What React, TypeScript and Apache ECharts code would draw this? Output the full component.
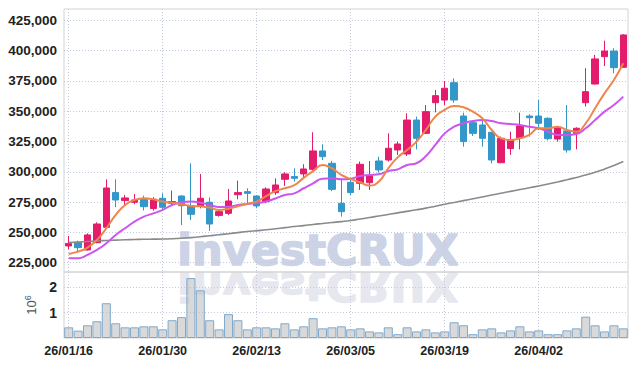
import React, { useEffect, useRef } from 'react';
import * as echarts from 'echarts';

const dates = [
  '26/01/16', '26/01/19', '26/01/20', '26/01/21', '26/01/22', '26/01/23', '26/01/26', '26/01/27', '26/01/28', '26/01/29',
  '26/01/30', '26/02/02', '26/02/03', '26/02/04', '26/02/05', '26/02/06', '26/02/09', '26/02/10', '26/02/11', '26/02/12',
  '26/02/13', '26/02/19', '26/02/20', '26/02/23', '26/02/24', '26/02/25', '26/02/26', '26/02/27', '26/03/03', '26/03/04',
  '26/03/05', '26/03/06', '26/03/09', '26/03/10', '26/03/11', '26/03/12', '26/03/13', '26/03/16', '26/03/17', '26/03/18',
  '26/03/19', '26/03/20', '26/03/23', '26/03/24', '26/03/25', '26/03/26', '26/03/27', '26/03/30', '26/03/31', '26/04/01',
  '26/04/02', '26/04/03', '26/04/06', '26/04/07', '26/04/08', '26/04/09', '26/04/10', '26/04/13', '26/04/14', '26/04/15',
];

const opens = [
  238800, 241800, 235500, 241500, 254200, 282800, 276200, 274800, 277300, 269600,
  278100, 274000, 280000, 272000, 271800, 274800, 264000, 265700, 281100, 283600,
  280000, 275300, 282800, 293800, 296000, 298200, 302000, 317200, 307000, 274000,
  291300, 290500, 291000, 308900, 309700, 318000, 314700, 342700, 331700, 357000,
  359200, 373500, 346000, 340500, 338600, 332600, 307500, 319100, 328200, 346000,
  346000, 344100, 327000, 333700, 331700, 357000, 372400, 395000, 399600, 386200,
];
const closes = [
  240900, 237400, 247900, 256900, 286600, 276700, 278400, 276700, 271200, 277300,
  270700, 275400, 272000, 264900, 278100, 256900, 267100, 275900, 282800, 282200,
  271800, 285800, 289100, 298200, 294600, 302300, 317200, 312500, 285500, 267100,
  282800, 306200, 296800, 301500, 319400, 322900, 342700, 327600, 349600, 362800,
  368900, 359200, 324900, 331700, 327600, 309700, 327600, 326200, 337800, 344600,
  340000, 327300, 336700, 318000, 335900, 366100, 393100, 399600, 385900, 412900,
];
const lows = [
  236000, 234100, 235000, 241000, 253000, 270700, 272600, 273200, 268000, 268000,
  269000, 272000, 256000, 260200, 269800, 251200, 263000, 264400, 277300, 274000,
  269900, 274000, 280900, 288300, 291900, 294600, 300900, 309700, 284000, 263000,
  280900, 285000, 285000, 299300, 308400, 313800, 313000, 318500, 331000, 349000,
  355100, 357000, 320700, 329500, 320700, 307000, 307000, 313900, 318500, 329000,
  334500, 326000, 324900, 315800, 318500, 353800, 372000, 387300, 381200, 386000,
];
const highs = [
  247000, 243200, 249200, 258300, 293800, 293800, 280900, 281700, 280300, 279000,
  282200, 284500, 280500, 307000, 298200, 278900, 268000, 285800, 292700, 286400,
  280800, 287200, 294600, 299600, 302900, 306200, 332600, 322700, 309000, 294600,
  293200, 308400, 308900, 312500, 331700, 324900, 348200, 345500, 355100, 367500,
  374900, 377100, 348800, 341900, 342700, 333000, 329000, 333100, 348800, 347400,
  359200, 345000, 337800, 355100, 336700, 385400, 396400, 408200, 401900, 413700,
];

// volume in millions of shares
const volumes = [
  0.42, 0.29, 0.50, 0.66, 1.37, 0.58, 0.42, 0.42, 0.46, 0.46,
  0.34, 0.70, 0.82, 2.36, 1.88, 0.70, 0.34, 0.94, 0.70, 0.34,
  0.42, 0.42, 0.38, 0.58, 0.34, 0.46, 0.78, 0.38, 0.42, 0.46,
  0.34, 0.38, 0.26, 0.22, 0.42, 0.15, 0.42, 0.26, 0.34, 0.22,
  0.26, 0.62, 0.50, 0.15, 0.34, 0.38, 0.22, 0.30, 0.46, 0.26,
  0.30, 0.15, 0.15, 0.30, 0.38, 0.84, 0.50, 0.26, 0.50, 0.38,
];

const ma5 = [
  232200, 234100, 237400, 243700, 253400, 264400, 272600, 276700, 278100, 277300,
  275400, 274500, 273200, 271800, 271500, 270500, 268500, 269500, 271500, 273500,
  275400, 280000, 284000, 286400, 289000, 295000, 300500, 305600, 302900, 297400,
  294000, 291300, 288600, 291900, 302900, 311900, 318000, 324900, 334500, 345500,
  351000, 354300, 353200, 349600, 344100, 334500, 327600, 326200, 327600, 330400,
  335900, 335900, 337200, 334500, 333100, 340000, 352400, 364700, 375700, 389500,
];
const ma20 = [
  228600, 228600, 231400, 235500, 241000, 247900, 253400, 258900, 263000, 265700,
  268500, 272600, 274800, 275400, 274500, 272600, 271000, 271200, 272600, 273500,
  274200, 275400, 278000, 280800, 282200, 286400, 290500, 294300, 294600, 293800,
  294300, 296500, 297400, 297900, 300600, 302000, 305600, 307000, 313000, 322100,
  331700, 337200, 340000, 341900, 342700, 341900, 340000, 339400, 338600, 337200,
  335900, 333100, 330400, 330400, 331200, 335900, 342700, 349600, 355100, 362000,
];
const ma60 = [
  241500, 242000, 242500, 243000, 243300, 243600, 243900, 244100, 244300, 244400,
  244500, 244700, 245100, 245700, 246400, 247200, 248000, 248900, 249800, 250700,
  251400, 252100, 253000, 253900, 254800, 255600, 256500, 257300, 258100, 258900,
  259800, 261000, 262200, 263500, 264800, 266100, 267300, 268600, 270000, 271600,
  273200, 274700, 276200, 277700, 279200, 280800, 282300, 283800, 285300, 286800,
  288300, 289900, 291600, 293400, 295300, 297300, 299600, 302200, 305100, 308400,
];

const priceTicks = [225000, 250000, 275000, 300000, 325000, 350000, 375000, 400000, 425000];
const volumeTicks = [1, 2];

const UP = '#e31c6b';
const DOWN = '#3297c9';
const LABEL_FONT = "'Liberation Sans Narrow', 'Liberation Sans', Arial, sans-serif";
const WM_FONT = "bold 43px 'DejaVu Sans', sans-serif";

export default function App() {
  const ref = useRef<HTMLDivElement>(null);

  useEffect(() => {
    const chart = echarts.init(ref.current as HTMLDivElement, null, { renderer: 'svg' });
    const candles = dates.map((_, i) => [opens[i], closes[i], lows[i], highs[i]]);
    const splitLineStyle = { color: '#c3c9dc', width: 1, type: [1, 2] as any };

    chart.setOption({
      animation: false,
      backgroundColor: '#ffffff',
      graphic: [
        {
          type: 'text',
          z: -1,
          x: 318,
          y: 250,
          silent: true,
          style: {
            text: 'investCRUX', font: WM_FONT, fill: '#cdd3e6', stroke: '#cdd3e6', lineWidth: 1.5,
            align: 'center', verticalAlign: 'middle',
          },
        },
        {
          type: 'text',
          z: -1,
          x: 318,
          y: 269,
          scaleY: -0.9,
          silent: true,
          style: {
            text: 'investCRUX', x: 0, y: -19, font: WM_FONT, fill: '#e7e8ef', stroke: '#e7e8ef', lineWidth: 1.5,
            align: 'center', verticalAlign: 'middle',
          },
        },
      ],
      grid: [
        { left: 64, right: 9, top: 9, height: 263, show: true, borderColor: '#d2d2d2', borderWidth: 1, backgroundColor: 'transparent' },
        { left: 64, right: 9, top: 272, height: 66, show: true, borderColor: '#d2d2d2', borderWidth: 1, backgroundColor: 'transparent' },
      ],
      xAxis: [
        {
          type: 'category',
          gridIndex: 0,
          data: dates,
          boundaryGap: true,
          axisLine: { show: false },
          axisTick: { show: false },
          axisLabel: { show: false, interval: 9 },
          splitLine: { show: true, interval: 9, alignWithLabel: true, lineStyle: splitLineStyle },
        },
        {
          type: 'category',
          gridIndex: 1,
          data: dates,
          boundaryGap: true,
          axisLine: { show: false },
          axisTick: { show: false },
          axisLabel: {
            show: true,
            interval: 9,
            margin: 6,
            color: '#222',
            fontFamily: LABEL_FONT,
            fontWeight: 'bold',
            fontSize: 12.5,
          },
          splitLine: { show: true, interval: 9, alignWithLabel: true, lineStyle: splitLineStyle },
        },
      ],
      yAxis: [
        {
          type: 'value',
          gridIndex: 0,
          min: 217300,
          max: 434300,
          axisLine: { show: false },
          axisTick: { show: false, customValues: priceTicks },
          axisLabel: {
            customValues: priceTicks,
            margin: 7,
            color: '#222',
            fontFamily: LABEL_FONT,
            fontWeight: 'bold',
            fontSize: 13.5,
            formatter: (v: number) => v.toLocaleString('en-US'),
          },
          splitLine: { show: true, lineStyle: splitLineStyle },
        },
        {
          type: 'value',
          gridIndex: 1,
          min: 0,
          max: 2.6,
          axisLine: { show: false },
          axisTick: { show: false, customValues: volumeTicks },
          axisLabel: {
            customValues: volumeTicks,
            margin: 7,
            color: '#222',
            fontFamily: LABEL_FONT,
            fontWeight: 'bold',
            fontSize: 14,
          },
          splitLine: { show: true, lineStyle: splitLineStyle },
          name: '10{s|6}',
          nameLocation: 'middle',
          nameRotate: 90,
          nameGap: 20,
          nameTextStyle: {
            color: '#555',
            fontFamily: "'Liberation Sans', Arial, sans-serif",
            fontSize: 13,
            rich: {
              s: { fontSize: 9, color: '#555', padding: [0, 0, 7, 0], fontFamily: "'Liberation Sans', Arial, sans-serif" },
            },
          },
        },
      ],
      series: [
        {
          name: 'price',
          type: 'candlestick',
          xAxisIndex: 0,
          yAxisIndex: 0,
          data: candles,
          barWidth: 7,
          itemStyle: { color: UP, color0: DOWN, borderColor: UP, borderColor0: DOWN, borderWidth: 1 },
          z: 3,
        },
        {
          name: 'MA60',
          type: 'line',
          xAxisIndex: 0,
          yAxisIndex: 0,
          data: ma60,
          smooth: true,
          symbol: 'none',
          lineStyle: { color: '#8a8a8a', width: 1.6 },
          z: 4,
        },
        {
          name: 'MA20',
          type: 'line',
          xAxisIndex: 0,
          yAxisIndex: 0,
          data: ma20,
          smooth: true,
          symbol: 'none',
          lineStyle: { color: '#cc55ee', width: 2 },
          z: 4,
        },
        {
          name: 'MA5',
          type: 'line',
          xAxisIndex: 0,
          yAxisIndex: 0,
          data: ma5,
          smooth: true,
          symbol: 'none',
          lineStyle: { color: '#ee864c', width: 2 },
          z: 5,
        },
        {
          name: 'volume',
          type: 'bar',
          xAxisIndex: 1,
          yAxisIndex: 1,
          data: volumes,
          barCategoryGap: '4%',
          itemStyle: { color: 'rgba(185,185,185,0.55)', borderColor: '#7fa9cd', borderWidth: 1 },
          z: 3,
        },
      ],
    });

    return () => chart.dispose();
  }, []);

  return <div ref={ref} style={{ position: 'absolute', left: 0, top: 0, width: 637, height: 366 }} />;
}
